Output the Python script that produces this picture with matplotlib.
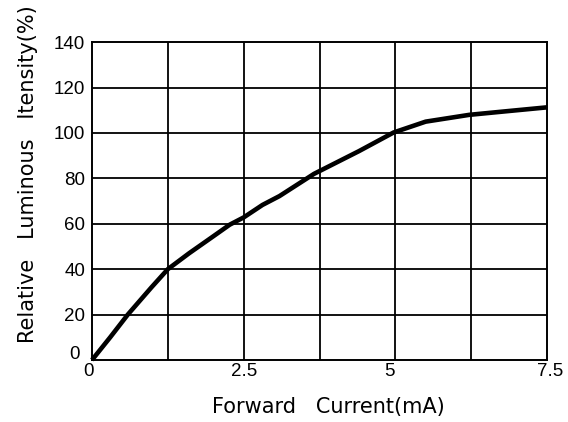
import matplotlib
matplotlib.use("Agg")
import matplotlib.pyplot as plt
import matplotlib.transforms as mtransforms

# Forward current (mA) vs. relative luminous intensity (%)
current_ma = [0, 0.3, 0.59, 0.98, 1.25, 1.6, 2.0, 2.27, 2.5, 2.81, 3.09,
              3.66, 4.4, 4.97, 5.5, 6.22, 6.76, 7.5]
intensity_pct = [0, 10, 20, 32, 40, 47, 54.5, 59.6, 62.8, 68.3, 72.2,
                 82, 92, 100.2, 105, 108, 109.4, 111.3]

x_ticks = [0, 2.5, 5, 7.5]
x_tick_labels = ["0", "2.5", "5", "7.5"]
y_ticks = [0, 20, 40, 60, 80, 100, 120, 140]
x_grid = [1.25, 2.5, 3.75, 5.0, 6.25]

plt.rcParams["font.family"] = ["Liberation Sans", "DejaVu Sans"]

fig = plt.figure(figsize=(5.68, 4.22), dpi=100)
ax = fig.add_axes([0.162, 0.147, 0.801, 0.753])

ax.set_xlim(0, 7.5)
ax.set_ylim(0, 140)

# grid drawn as plain black lines
for gx in x_grid:
    ax.axvline(gx, color="black", lw=1.3, zorder=1)
for gy in y_ticks[1:-1]:
    ax.axhline(gy, color="black", lw=1.3, zorder=1)

ax.plot(current_ma, intensity_pct, color="black", lw=3.3,
        solid_capstyle="butt", zorder=3, clip_on=False)

for s in ax.spines.values():
    s.set_linewidth(1.4)
    s.set_color("black")

ax.set_xticks(x_ticks)
ax.set_xticklabels(x_tick_labels)
ax.set_yticks(y_ticks)
ax.tick_params(axis="both", length=0, labelsize=13.5)
ax.tick_params(axis="x", pad=2)
ax.tick_params(axis="y", pad=5)


def nudge(label, dx_px, dy_px):
    label.set_transform(label.get_transform() +
                        mtransforms.ScaledTranslation(dx_px / 100, dy_px / 100,
                                                      fig.dpi_scale_trans))


# small hand offsets on individual tick labels
nudge(ax.get_yticklabels()[0], -5, 7)
xl = ax.get_xticklabels()
nudge(xl[0], -4, 0)
nudge(xl[2], -6, 0)
nudge(xl[3], 3, 0)

ax.set_xlabel("Forward   Current(mA)", fontsize=15, family="DejaVu Sans")
ax.set_ylabel("Relative   Luminous   Itensity(%)", fontsize=15, family="DejaVu Sans")
ax.xaxis.label.set_va("center")
ax.yaxis.label.set_va("center")
ax.xaxis.set_label_coords(0.519, -0.148)
ax.yaxis.set_label_coords(-0.141, 0.585)

fig.savefig("out.png", dpi=100)
